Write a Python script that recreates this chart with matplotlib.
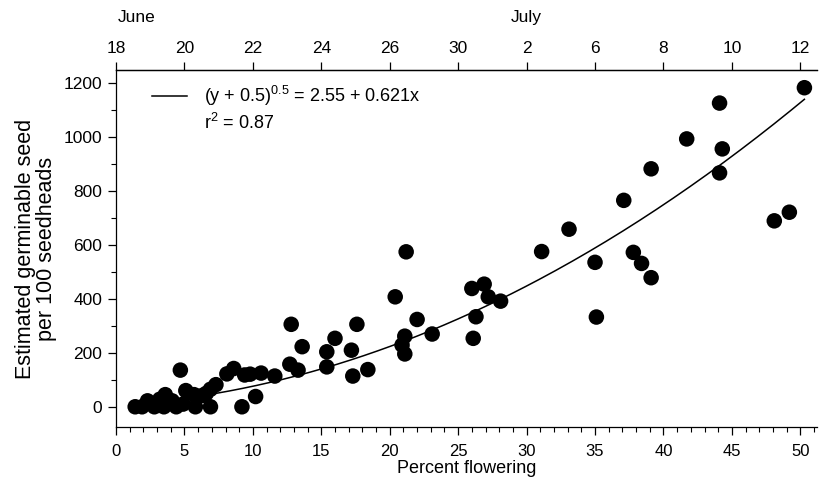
import numpy as np
import matplotlib
matplotlib.use("Agg")
import matplotlib.pyplot as plt
import matplotlib.transforms as mtransforms

plt.rcParams['font.family'] = ['Liberation Sans', 'DejaVu Sans']
plt.rcParams['mathtext.fontset'] = 'custom'
plt.rcParams['mathtext.rm'] = 'Liberation Sans'

# percent flowering vs estimated germinable seed per 100 seedheads
pct_flowering = [1.4, 1.9, 2.3, 2.8, 3.2, 3.6, 3.5, 4.1, 4.4, 4.7, 4.9, 5.1, 5.7, 5.8,
                 6.3, 6.6, 6.9, 6.9, 7.3, 8.1, 8.6, 9.2, 9.4, 9.8, 10.2, 10.6, 11.6,
                 12.7, 12.8, 13.3, 13.6, 15.4, 15.4, 16.0, 17.2, 17.3, 17.6, 18.4,
                 20.4, 20.9, 21.1, 21.1, 21.2, 22.0, 23.1, 26.0, 26.1, 26.3, 26.9,
                 27.2, 28.1, 31.1, 33.1, 35.0, 35.1, 37.1, 37.8, 38.4, 39.1, 39.1,
                 41.7, 44.1, 44.1, 44.3, 48.1, 49.2, 50.3]
seed = [0, 0, 22, 0, 28, 45, 0, 22, 0, 136, 10, 60, 45, 0,
        42, 50, 0, 65, 82, 122, 142, 0, 118, 121, 38, 125, 114,
        158, 306, 136, 223, 204, 148, 254, 210, 114, 306, 138,
        408, 229, 262, 196, 575, 324, 270, 439, 254, 334, 455,
        408, 392, 576, 659, 536, 333, 766, 573, 532, 883, 479,
        994, 868, 1127, 957, 690, 722, 1184]

# fitted model: (y + 0.5)^0.5 = 2.55 + 0.621x
fit_a = 2.55
fit_b = 0.621

top_tick_pos = [0, 5, 10, 15, 20, 25, 30, 35, 40, 45, 50]
top_tick_labels = ['18', '20', '22', '24', '26', '30', '2', '6', '8', '10', '12']
months = [('June', 0.1), ('July', 30)]

fig = plt.figure(figsize=(8.2, 4.79), dpi=100)
ax = fig.add_axes([0.1415, 0.1086, 0.8545, 0.7454])

xf = np.linspace(min(pct_flowering), max(pct_flowering), 200)
yf = (fit_a + fit_b * xf) ** 2 - 0.5
ax.plot(xf, yf, color='black', lw=1.1, zorder=2)
ax.scatter(pct_flowering, seed, s=125, color='black', edgecolors='none', zorder=3)

ax.set_xlim(0, 51.2)
ax.set_ylim(-75, 1250)
ax.set_xticks(range(0, 51, 5))
ax.set_xticks(range(0, 52, 1), minor=True)
ax.set_yticks(range(0, 1201, 200))
ax.set_yticks(range(0, 1201, 100), minor=True)
ax.spines['right'].set_visible(False)
for s in ['left', 'bottom', 'top']:
    ax.spines[s].set_linewidth(0.9)
ax.tick_params(axis='both', which='major', length=6, width=0.9, direction='out')
ax.tick_params(axis='both', which='minor', length=3.5, width=0.8, direction='out')
ax.tick_params(axis='x', labelsize=12, pad=6)
ax.tick_params(axis='y', labelsize=12.5, pad=4)

ax.set_xlabel('Percent flowering', fontsize=13, labelpad=1)
ax.set_ylabel('Estimated germinable seed\nper 100 seedheads', fontsize=15.5,
              linespacing=0.95, labelpad=5)

# date axis on top
ax2 = ax.twiny()
ax2.set_xlim(ax.get_xlim())
ax2.set_xticks(top_tick_pos)
ax2.set_xticklabels(top_tick_labels)
ax2.tick_params(axis='x', labelsize=12.5, length=6, width=0.9, direction='out', pad=4)
for s in ['right', 'left', 'bottom']:
    ax2.spines[s].set_visible(False)
ax2.spines['top'].set_linewidth(0.9)

trans = mtransforms.blended_transform_factory(ax.transData, ax.transAxes)
for name, xpos in months:
    ha = 'left' if xpos < 1 else 'center'
    ax.text(xpos, 1.146, name, transform=trans, fontsize=12.5, ha=ha, va='center')

# legend text
ax.plot([2.6, 5.2], [1155, 1155], color='black', lw=1.1)
ax.text(6.4, 1155, r'(y + 0.5)$^{0.5}$ = 2.55 + 0.621x', fontsize=13, va='center')
ax.text(6.4, 1055, r'r$^{2}$ = 0.87', fontsize=13, va='center')

fig.savefig('out.png', dpi=100)
